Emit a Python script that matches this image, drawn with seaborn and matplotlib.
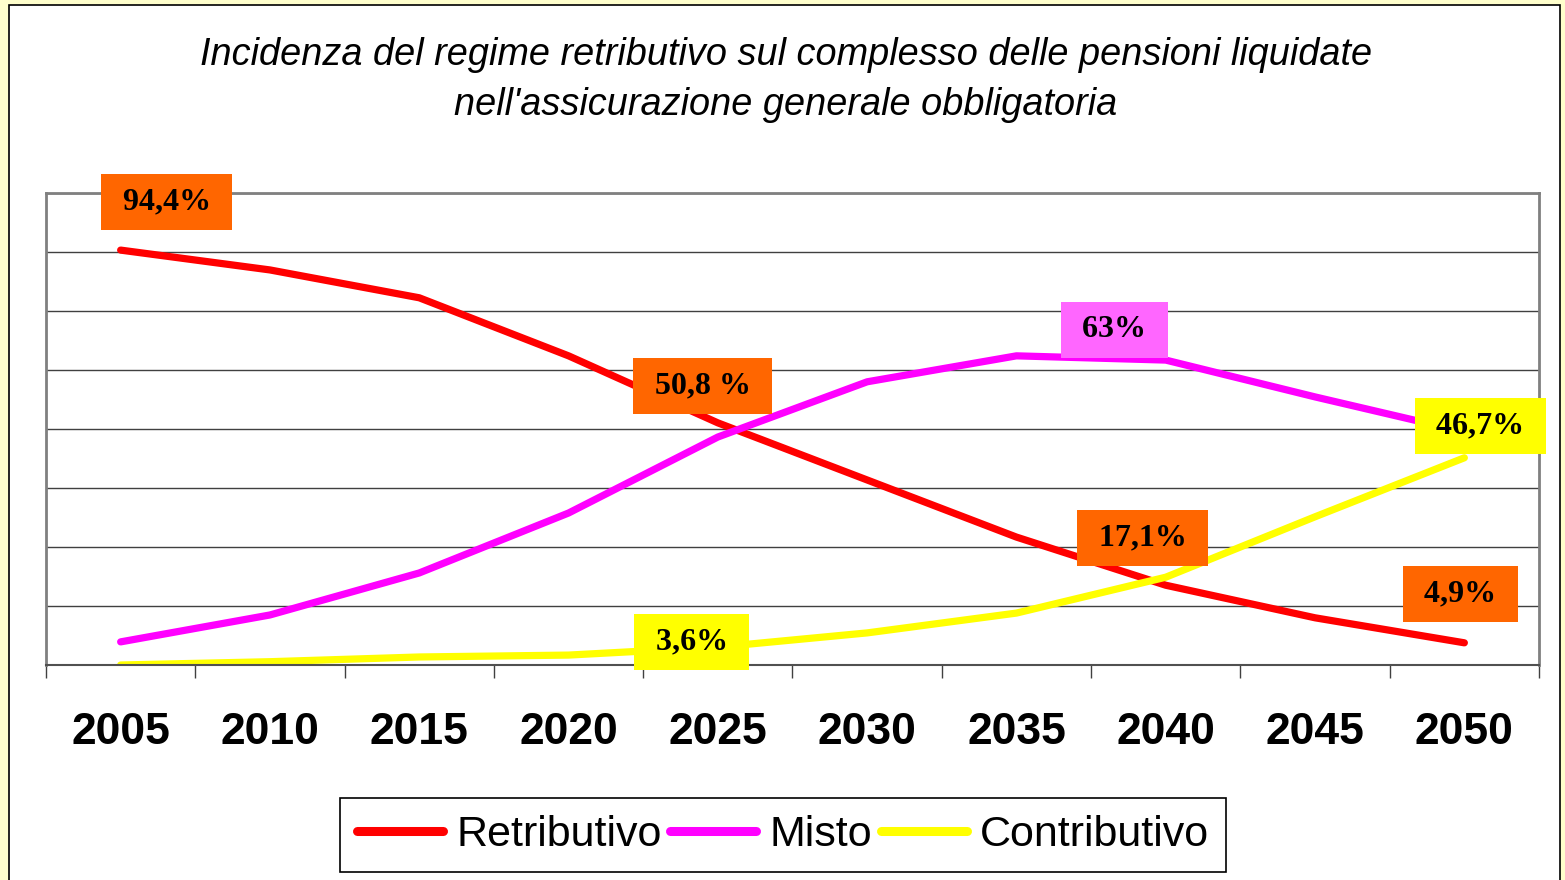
import numpy as np
import pandas as pd
import seaborn as sns
import matplotlib.pyplot as plt
from matplotlib.patches import Rectangle

# Values (percent of pensions)
anni = [2005, 2010, 2015, 2020, 2025, 2030, 2035, 2040, 2045, 2050]
retributivo = [87.9, 83.7, 77.8, 65.5, 51.3, 39.2, 27.1, 16.9, 10.0, 4.7]
misto = [4.9, 10.6, 19.5, 32.2, 48.3, 60.0, 65.5, 64.6, 56.8, 49.4]
contributivo = [0.0, 0.7, 1.7, 2.1, 3.8, 6.8, 11.0, 18.6, 31.4, 43.9]
regimi = ['Retributivo', 'Misto', 'Contributivo']
colori = ['#FF0000', '#FF00FF', '#FFFF00']

# Data labels: series, year, text
etich_regime = ['Retributivo', 'Retributivo', 'Misto', 'Contributivo',
                'Retributivo', 'Retributivo', 'Contributivo']
etich_anno = [2005, 2025, 2035, 2050, 2040, 2050, 2025]
etich_testo = ['94,4%', '50,8 %', '63%', '46,7%', '17,1%', '4,9%', '3,6%']

titolo_1 = 'Incidenza del regime retributivo sul complesso delle pensioni liquidate'
titolo_2 = "nell'assicurazione generale obbligatoria"

# label box offsets from the anchor point, in pixels (dx, dy up)
offsets = [(46, 48), (-15, 37), (98, 26), (16, 32), (-23, 47), (-4, 49), (-26, 5)]
box_colori = {'Retributivo': '#FF6600', 'Misto': '#FF66FF', 'Contributivo': '#FFFF00'}

sns.set_style('white')
plt.rcParams['font.family'] = ['Liberation Sans', 'DejaVu Sans']
plt.rcParams['text.color'] = 'black'
plt.rcParams['xtick.labelcolor'] = 'black'

W, H = 1565, 880
fig = plt.figure(figsize=(W / 100, H / 100), dpi=100, facecolor='#FFFFCC')
fig.add_artist(Rectangle((9 / W, -0.05), (1560 - 9) / W, 1.05 - 5 / H,
                         transform=fig.transFigure, facecolor='white',
                         edgecolor='black', lw=1.2, zorder=-5))

ax = fig.add_axes([46 / W, 1 - 665 / H, (1539 - 46) / W, (665 - 193) / H])
ax.set_facecolor('white')

df = pd.DataFrame({
    'anno': anni * 3,
    'quota': retributivo + misto + contributivo,
    'regime': np.repeat(regimi, len(anni)),
})
serie = dict(zip(regimi, [retributivo, misto, contributivo]))

sns.lineplot(data=df, x='anno', y='quota', hue='regime', hue_order=regimi,
             palette=colori, linewidth=5.2, solid_capstyle='round', ax=ax)

ax.set_xlim(2002.5, 2052.5)
ax.set_ylim(0, 100)
ax.set_yticks(np.arange(0, 101, 12.5))
ax.yaxis.grid(True, color='#404040', lw=1)
ax.xaxis.grid(False)
ax.tick_params(axis='y', length=0, labelleft=False)
ax.set_xticks(anni)
ax.set_xticklabels([str(a) for a in anni], fontweight='bold', fontsize=32,
                   color='black')
ax.set_xticks(np.arange(2002.5, 2053, 5), minor=True)
ax.tick_params(axis='x', which='major', length=0, pad=34)
ax.tick_params(axis='x', which='minor', length=9, width=1, color='#404040',
               direction='out', bottom=True)
ax.set_xlabel('')
ax.set_ylabel('')
for s in ['left', 'top', 'right']:
    ax.spines[s].set_color('#808080')
    ax.spines[s].set_linewidth(2)
ax.spines['bottom'].set_color('#505050')
ax.spines['bottom'].set_linewidth(1.5)

for reg, anno, testo, (dx, dy) in zip(etich_regime, etich_anno, etich_testo, offsets):
    val = serie[reg][anni.index(anno)]
    ax.annotate(' ' + testo + ' ', xy=(anno, val), xytext=(dx * 0.72, dy * 0.72),
                textcoords='offset points', ha='center', va='center',
                fontsize=23, fontweight='bold', family='Liberation Serif',
                color='black', zorder=10, annotation_clip=False,
                bbox=dict(boxstyle='square,pad=0.42', facecolor=box_colori[reg],
                          edgecolor='none'))

fig.text(786 / W, 1 - 55 / H, titolo_1, ha='center', va='center',
         style='italic', fontsize=27.3, color='black')
fig.text(786 / W, 1 - 105 / H, titolo_2, ha='center', va='center',
         style='italic', fontsize=27.3, color='black')

handles, labels = ax.get_legend_handles_labels()
ax.get_legend().remove()
leg = fig.legend(handles, labels, loc='center', bbox_to_anchor=(783 / W, 1 - 835 / H),
                 ncol=3, fontsize=31, frameon=True, fancybox=False,
                 edgecolor='black', framealpha=1, handlelength=2.0,
                 handletextpad=0.3, columnspacing=0.2, borderpad=0.4,
                 borderaxespad=0)
for l in leg.get_lines():
    l.set_linewidth(6.5)
    l.set_solid_capstyle('round')
for t in leg.get_texts():
    t.set_color('black')
leg.get_frame().set_linewidth(1.2)

fig.savefig('out.png', dpi=100, facecolor=fig.get_facecolor())
